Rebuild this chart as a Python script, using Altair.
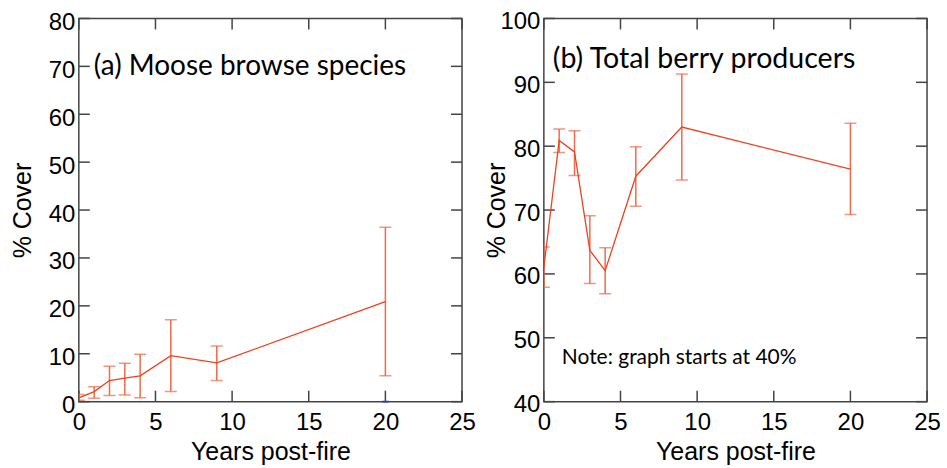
import altair as alt
import pandas as pd

# ---- data ----
years = [0, 1, 2, 3, 4, 6, 9, 20]

moose_mean = [0.8, 2.1, 4.4, 4.9, 5.4, 9.6, 8.1, 20.9]
moose_lo = [0.3, 0.7, 1.3, 1.4, 0.8, 2.1, 4.4, 5.4]
moose_hi = [1.5, 3.1, 7.4, 8.0, 9.9, 17.1, 11.6, 36.4]

berry_mean = [61.0, 80.9, 79.1, 63.7, 60.5, 75.3, 83.0, 76.4]
berry_lo = [57.9, 79.0, 75.4, 58.5, 56.9, 70.6, 74.7, 69.3]
berry_hi = [64.2, 82.7, 82.4, 69.1, 64.1, 79.9, 91.3, 83.6]

x_ticks = [0, 5, 10, 15, 20, 25]
moose_y_ticks = [0, 10, 20, 30, 40, 50, 60, 70, 80]
berry_y_ticks = [40, 50, 60, 70, 80, 90, 100]

blue_mark_year = [20]
blue_mark_value = [0]

LINE = "#f0401e"
ERR = "#f26a4a"
FRAME = "#444444"
AXFONT = "Liberation Sans"
TXTFONT = "Lato"

W, H = 384, 384
TICK = 11


def panel(mean, lo, hi, yticks, title_text, title_x, title_y, title_size=28,
          note=None, blue=False, ytitle_x=-56, label_off=4):
    df = pd.DataFrame({"year": years, "mean": mean, "lo": lo, "hi": hi})
    ymin, ymax = yticks[0], yticks[-1]
    xs = alt.Scale(domain=[x_ticks[0], x_ticks[-1]], nice=False, zero=False)
    ys = alt.Scale(domain=[ymin, ymax], nice=False, zero=False)

    xax = alt.Axis(values=x_ticks, ticks=False, domain=False, grid=False,
                   labelFont=AXFONT, labelFontSize=24, labelColor="black",
                   labelPadding=9, labelFlush=False, labelOverlap=False,
                   title="Years post-fire", titleFont=AXFONT, titleFontSize=25,
                   titleFontWeight="normal", titleColor="black",
                   titleX=W / 2, titleY=58, titleBaseline="alphabetic",
                   titleAlign="center")
    yax = alt.Axis(values=yticks, ticks=False, domain=False, grid=False,
                   labelFont=AXFONT, labelFontSize=24, labelColor="black",
                   labelPadding=4, labelOffset=label_off, labelFlush=False,
                   labelOverlap=False,
                   title="% Cover", titleFont=AXFONT, titleFontSize=25,
                   titleFontWeight="normal", titleColor="black",
                   titleAngle=270, titleX=ytitle_x, titleY=H / 2,
                   titleBaseline="middle", titleAlign="center")

    base = alt.Chart(df)
    line = base.mark_line(color=LINE, strokeWidth=1.3, clip=True).encode(
        x=alt.X("year:Q", scale=xs, axis=xax),
        y=alt.Y("mean:Q", scale=ys, axis=yax),
    )
    err = base.mark_rule(color=ERR, strokeWidth=1.5, clip=True).encode(
        x="year:Q", y="lo:Q", y2="hi:Q")
    cap_lo = base.mark_tick(color=ERR, orient="horizontal", size=12,
                            thickness=1.5, clip=True).encode(x="year:Q", y="lo:Q")
    cap_hi = base.mark_tick(color=ERR, orient="horizontal", size=12,
                            thickness=1.5, clip=True).encode(x="year:Q", y="hi:Q")

    xt = alt.Chart(pd.DataFrame({"t": x_ticks}))
    yt = alt.Chart(pd.DataFrame({"t": yticks}))
    tick_bottom = xt.mark_rule(color=FRAME, strokeWidth=1.5).encode(
        x="t:Q", y=alt.value(H), y2=alt.value(H - TICK))
    tick_top = xt.mark_rule(color=FRAME, strokeWidth=1.5).encode(
        x="t:Q", y=alt.value(0), y2=alt.value(TICK))
    tick_left = yt.mark_rule(color=FRAME, strokeWidth=1.5).encode(
        y="t:Q", x=alt.value(0), x2=alt.value(TICK))
    tick_right = yt.mark_rule(color=FRAME, strokeWidth=1.5).encode(
        y="t:Q", x=alt.value(W - TICK), x2=alt.value(W))

    title = alt.Chart(pd.DataFrame({"s": [title_text]})).mark_text(
        font=TXTFONT, fontSize=title_size, color="black", align="left",
        baseline="alphabetic").encode(
        text="s:N", x=alt.value(title_x), y=alt.value(title_y))

    layers = [tick_bottom, tick_top, tick_left, tick_right, err, cap_lo, cap_hi, line, title]

    if note is not None:
        layers.append(alt.Chart(pd.DataFrame({"s": [note]})).mark_text(
            font=TXTFONT, fontSize=21, color="black", align="left",
            baseline="alphabetic").encode(
            text="s:N", x=alt.value(18), y=alt.value(346)))
    if blue:
        layers.append(alt.Chart(pd.DataFrame({"year": blue_mark_year, "v": blue_mark_value}))
                      .mark_tick(color="#1f3fd0", orient="horizontal", size=7, thickness=2)
                      .encode(x="year:Q", y="v:Q"))

    return alt.layer(*layers).properties(width=W, height=H)


pa = panel(moose_mean, moose_lo, moose_hi, moose_y_ticks,
           "(a) Moose browse species", 15, 57, title_size=28,
           blue=True, ytitle_x=-56, label_off=4)
pb = panel(berry_mean, berry_lo, berry_hi, berry_y_ticks,
           "(b) Total berry producers", 9, 50, title_size=28.6,
           note="Note: graph starts at 40%", ytitle_x=-47, label_off=3)

chart = alt.hconcat(pa, pb, spacing=82, bounds="flush").properties(
    padding={"left": 10, "top": 8, "right": 5, "bottom": 5},
).configure(background="white").configure_view(stroke=FRAME, strokeWidth=1.5)

chart.save("out.html", embed_options={"renderer": "svg", "actions": False})
